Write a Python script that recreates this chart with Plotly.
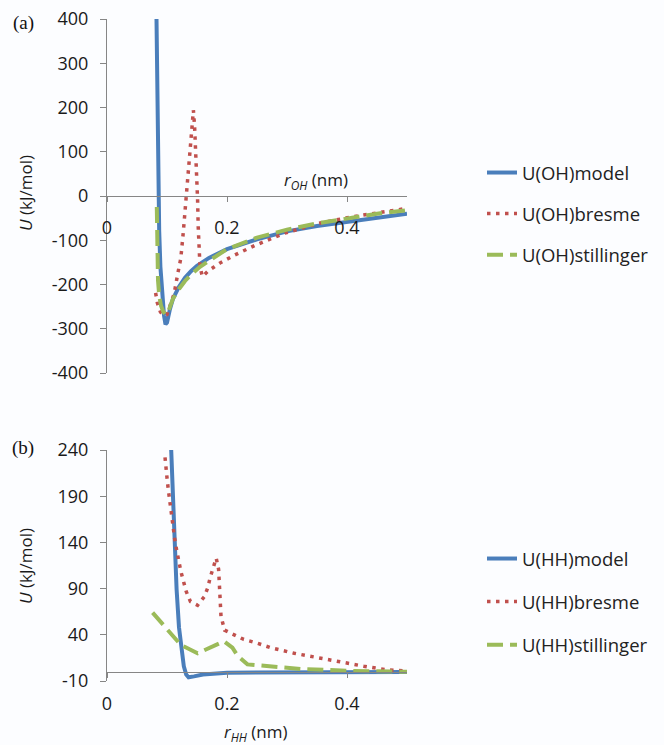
import plotly.graph_objects as go

# ---------------- Panel (a): O-H potentials ----------------
r_oh_model = [0.0825, 0.0835, 0.0845, 0.0855, 0.087, 0.089, 0.092, 0.095, 0.0975, 0.100,
              0.105, 0.110, 0.120, 0.130, 0.140, 0.150, 0.170, 0.200, 0.250, 0.300,
              0.350, 0.400, 0.450, 0.500]
u_oh_model = [400, 250, 100, 0, -80, -160, -230, -270, -290, -286,
              -255, -232, -205, -185, -170, -158, -140, -120, -98, -80,
              -68, -58, -48, -40]

r_oh_bresme = [0.081, 0.084, 0.089, 0.094, 0.100, 0.106, 0.112, 0.118, 0.123, 0.127,
               0.131, 0.134, 0.137, 0.140, 0.142, 0.144, 0.146, 0.148, 0.150, 0.151,
               0.152, 0.154, 0.155, 0.159, 0.168, 0.179, 0.190, 0.212, 0.246, 0.296,
               0.352, 0.408, 0.450, 0.500]
u_oh_bresme = [-219, -242, -262, -270, -268, -245, -220, -175, -141, -84,
               -17, 32, 81, 127, 165, 194, 157, 104, 51, -9,
               -69, -130, -160, -182, -170, -160, -150, -134, -112, -84,
               -62, -47, -38, -28]

r_oh_still = [0.083, 0.0835, 0.084, 0.085, 0.087, 0.090, 0.094, 0.098, 0.101, 0.105,
              0.110, 0.120, 0.130, 0.140, 0.155, 0.175, 0.200, 0.250, 0.300, 0.350,
              0.400, 0.450, 0.500]
u_oh_still = [-25, -80, -140, -190, -225, -248, -262, -268, -265, -250,
              -232, -210, -192, -178, -160, -142, -120, -94, -76, -62,
              -50, -40, -32]

# ---------------- Panel (b): H-H potentials ----------------
r_hh_model = [0.107, 0.110, 0.112, 0.116, 0.120, 0.124, 0.128, 0.132, 0.136, 0.145,
              0.160, 0.200, 0.300, 0.400, 0.500]
u_hh_model = [240, 190, 140, 89, 48, 25, 6, -3, -6, -5,
              -3, -1, -0.5, -0.3, -0.2]

r_hh_bresme = [0.0967, 0.098, 0.100, 0.102, 0.1045, 0.1055, 0.108, 0.110, 0.113, 0.116,
               0.119, 0.123, 0.127, 0.132, 0.139, 0.151, 0.162, 0.168, 0.172, 0.178,
               0.182, 0.186, 0.187, 0.188, 0.189, 0.190, 0.196, 0.212, 0.228, 0.250,
               0.273, 0.312, 0.351, 0.390, 0.428, 0.467, 0.500]
u_hh_bresme = [232, 220, 210, 198, 186, 175, 164, 154, 143, 132,
               120, 109, 99, 87, 76, 72, 81, 91, 102, 113,
               123, 111, 101, 89, 77, 60, 45, 40, 35, 31,
               26, 20, 15, 10, 6, 2, 1]

r_hh_still = [0.076, 0.101, 0.123, 0.151, 0.173, 0.195, 0.209, 0.218, 0.234, 0.267,
              0.323, 0.406, 0.500]
u_hh_still = [64, 45, 29, 20, 26, 33, 26, 17, 8, 6,
              3, 1, 0]

x_tickvals = [0, 0.2, 0.4]
x_ticktext = ["0", "0.2", "0.4"]
ya_tickvals = [-400, -300, -200, -100, 0, 100, 200, 300, 400]
ya_ticktext = ["-400", "-300", "-200", "-100", "0", "100", "200", "300", "400"]
yb_tickvals = [-10, 40, 90, 140, 190, 240]
yb_ticktext = ["-10", "40", "90", "140", "190", "240"]

BLUE = "#4a7ebb"
RED = "#c0504d"
GREEN = "#9bbb59"
AXIS = "#868686"
FONT = "Open Sans"

W, H = 664, 745
def px_x(p):
    return p / W
def px_y(p):
    return 1 - p / H

fig = go.Figure()

fig.add_trace(go.Scatter(x=r_oh_model, y=u_oh_model, mode="lines", name="U(OH)model",
                         line=dict(color=BLUE, width=4), xaxis="x", yaxis="y",
                         legend="legend", legendgroup="a1"))
fig.add_trace(go.Scatter(x=r_oh_bresme, y=u_oh_bresme, mode="lines", name="U(OH)bresme",
                         line=dict(color=RED, width=3.5, dash="3.5px,5.5px"), xaxis="x", yaxis="y",
                         legend="legend", legendgroup="a2"))
fig.add_trace(go.Scatter(x=r_oh_still, y=u_oh_still, mode="lines", name="U(OH)stillinger",
                         line=dict(color=GREEN, width=4, dash="16px,7px"), xaxis="x", yaxis="y",
                         legend="legend", legendgroup="a3"))

fig.add_trace(go.Scatter(x=r_hh_model, y=u_hh_model, mode="lines", name="U(HH)model",
                         line=dict(color=BLUE, width=4), xaxis="x2", yaxis="y2",
                         legend="legend2", legendgroup="b1"))
fig.add_trace(go.Scatter(x=r_hh_bresme, y=u_hh_bresme, mode="lines", name="U(HH)bresme",
                         line=dict(color=RED, width=3.5, dash="3.5px,5.5px"), xaxis="x2", yaxis="y2",
                         legend="legend2", legendgroup="b2"))
fig.add_trace(go.Scatter(x=r_hh_still, y=u_hh_still, mode="lines", name="U(HH)stillinger",
                         line=dict(color=GREEN, width=4, dash="16px,7px"), xaxis="x2", yaxis="y2",
                         legend="legend2", legendgroup="b3"))

xdom = [px_x(107), px_x(407)]
ya_dom = [px_y(373), px_y(19)]
yb_dom = [px_y(681), px_y(450)]

common_x = dict(range=[0, 0.5], showgrid=False, zeroline=False, showline=True,
                linecolor=AXIS, linewidth=1, ticks="outside", ticklen=5, tickcolor=AXIS,
                tickvals=x_tickvals, ticktext=x_ticktext, automargin=False,
                tickfont=dict(family=FONT, size=18, color="#1a1a1a"),
                anchor="free", ticklabelstandoff=10, fixedrange=True)
common_y = dict(showgrid=False, zeroline=False, showline=True, linecolor=AXIS, linewidth=1,
                ticks="outside", ticklen=6, tickcolor=AXIS, automargin=False,
                tickfont=dict(family=FONT, size=18, color="#1a1a1a"),
                ticklabelstandoff=8, fixedrange=True)

def ann(text, x, y, size=17, family=FONT, angle=0, color="#1a1a1a"):
    return dict(text=text, x=px_x(x), y=px_y(y), xref="paper", yref="paper",
                xanchor="center", yanchor="middle", textangle=angle, showarrow=False,
                font=dict(family=family, size=size, color=color))

fig.update_layout(
    template="none",
    width=W, height=H,
    margin=dict(l=0, r=0, t=0, b=0, pad=0, autoexpand=False),
    paper_bgcolor="#fcfdff", plot_bgcolor="#fcfdff",
    xaxis=dict(domain=xdom, position=(ya_dom[0] + ya_dom[1]) / 2, **common_x),
    yaxis=dict(domain=ya_dom, range=[-400, 400], tickvals=ya_tickvals, ticktext=ya_ticktext,
               anchor="x", **common_y),
    xaxis2=dict(domain=xdom, position=px_y(672), **common_x),
    yaxis2=dict(domain=yb_dom, range=[-10, 240], tickvals=yb_tickvals, ticktext=yb_ticktext,
                anchor="x2", **common_y),
    legend=dict(x=px_x(482), y=px_y(154), xanchor="left", yanchor="top",
                traceorder="grouped", tracegroupgap=14, bgcolor="rgba(0,0,0,0)",
                font=dict(family=FONT, size=18.5, color="#222222")),
    legend2=dict(x=px_x(482), y=px_y(540), xanchor="left", yanchor="top",
                 traceorder="grouped", tracegroupgap=16, bgcolor="rgba(0,0,0,0)",
                 font=dict(family=FONT, size=18.5, color="#222222")),
    annotations=[
        ann("(a)", 23, 23, size=19, family="Liberation Serif", color="#111111"),
        ann("(b)", 23, 448, size=19, family="Liberation Serif", color="#111111"),
        ann("<i>U</i> (kJ/mol)", 25, 193, angle=-90),
        ann("<i>U</i> (kJ/mol)", 25, 566, angle=-90),
        ann("<i>r</i><sub><i>OH</i></sub> (nm)", 316, 180),
        ann("<i>r</i><sub><i>HH</i></sub> (nm)", 256, 732),
    ],
)

fig.write_html("out.html",
               config={"displayModeBar": False, "staticPlot": True},
               post_script="document.body.style.margin='0';document.body.style.padding='0';"
                           "document.documentElement.style.overflow='hidden';")
